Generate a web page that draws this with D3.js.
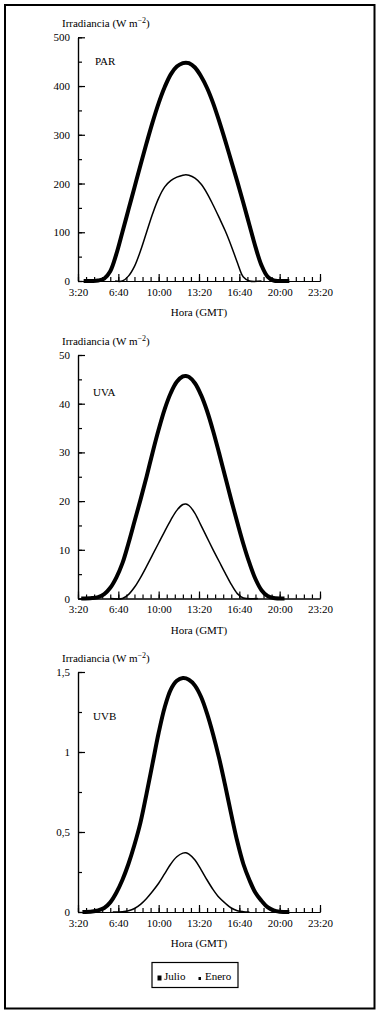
<!DOCTYPE html>
<html>
<head>
<meta charset="utf-8">
<script src="https://cdn.jsdelivr.net/npm/d3@7/dist/d3.min.js"></script>
<style>
  body { margin: 0; background: #fff; }
  text { font-family: "Liberation Serif", "Times New Roman", serif; font-size: 11px; fill: #000; }
</style>
</head>
<body>
<div id="chart"></div>
<script>
// [hour, W m-2]
const parJulio = [[3.8,0],[4.5,0],[5,1],[5.5,5],[6,20],[6.5,55],[7,100],[7.5,146],[8,192],[8.5,238],[9,283],[9.5,326],[10,365],[10.5,398],[11,424],[11.5,440],[12,447],[12.25,448],[12.5,447],[13,438],[13.5,420],[14,396],[14.5,365],[15,328],[15.5,288],[16,246],[16.5,204],[17,160],[17.5,115],[18,70],[18.5,32],[19,9],[19.5,1],[20,0],[20.8,0]];
const parEnero = [[6.4,0],[7,0],[7.5,10],[8,30],[8.5,62],[9,100],[9.5,138],[10,170],[10.5,193],[11,206],[11.5,213],[12,217],[12.25,218],[12.5,217],[13,211],[13.5,199],[14,180],[14.5,156],[15,130],[15.5,103],[16,72],[16.5,38],[17,8],[17.5,0],[18.5,0]];

const uvaJulio = [[3.6,0],[4.5,0.1],[5,0.3],[5.5,0.9],[6,2.2],[6.5,4.3],[7,7.2],[7.5,11.3],[8,15.8],[8.5,20.3],[9,25],[9.5,30],[10,34.7],[10.5,38.9],[11,42.2],[11.5,44.5],[12,45.6],[12.25,45.7],[12.5,45.5],[13,44.2],[13.5,41.8],[14,38.5],[14.5,34.4],[15,29.8],[15.5,25],[16,20.2],[16.5,15.6],[17,11.2],[17.5,7.3],[18,4],[18.5,1.7],[19,0.5],[19.5,0.1],[20.4,0]];
const uvaEnero = [[6,0],[7,0],[7.5,0.8],[8,2.3],[8.5,4.3],[9,6.6],[9.5,9],[10,11.4],[10.5,13.8],[11,16.1],[11.5,18.1],[12,19.3],[12.25,19.4],[12.5,19.1],[13,17.5],[13.5,15],[14,12.5],[14.5,10],[15,7.6],[15.5,5.2],[16,2.9],[16.5,1],[17,0.1],[18.2,0]];

const uvbJulio = [[3.7,0],[4.5,0.003],[5,0.01],[5.5,0.025],[6,0.06],[6.5,0.12],[7,0.2],[7.5,0.3],[8,0.42],[8.5,0.56],[9,0.74],[9.5,0.93],[10,1.12],[10.5,1.28],[11,1.39],[11.5,1.445],[12,1.462],[12.5,1.452],[13,1.415],[13.5,1.345],[14,1.24],[14.5,1.11],[15,0.96],[15.5,0.79],[16,0.61],[16.5,0.44],[17,0.3],[17.5,0.2],[18,0.12],[18.5,0.07],[19,0.03],[19.5,0.01],[20,0.002],[20.8,0]];
const uvbEnero = [[6.2,0],[7,0.002],[7.5,0.008],[8,0.022],[8.5,0.048],[9,0.085],[9.5,0.13],[10,0.18],[10.5,0.24],[11,0.3],[11.5,0.345],[12,0.368],[12.25,0.37],[12.5,0.362],[13,0.325],[13.5,0.265],[14,0.2],[14.5,0.14],[15,0.09],[15.5,0.055],[16,0.025],[16.5,0.008],[17,0.002],[17.5,0]];

const hourStart = 3 + 20 / 60, hourEnd = 23 + 20 / 60;
const legendNames = ["Julio", "Enero"];

const width = 381, height = 1015;
const x0 = 78, x1 = 320;

const panels = [
  { name: "PAR", julio: parJulio, enero: parEnero, top: 37.3, bottom: 281, max: 500, major: 100, minor: 50, labelY: 64.5 },
  { name: "UVA", julio: uvaJulio, enero: uvaEnero, top: 355, bottom: 598.5, max: 50, major: 10, minor: 5, labelY: 395.5 },
  { name: "UVB", julio: uvbJulio, enero: uvbEnero, top: 672, bottom: 912, max: 1.5, major: 0.5, minor: 0.25, labelY: 720 }
];

const svg = d3.select("#chart").append("svg")
  .attr("width", width)
  .attr("height", height);

// outer frame
svg.append("rect")
  .attr("x", 5).attr("y", 5)
  .attr("width", 369.5).attr("height", 1003.5)
  .attr("fill", "none").attr("stroke", "#000").attr("stroke-width", 2);

let x = d3.scaleLinear().domain([hourStart, hourEnd]).range([x0, x1]);

const fmtHour = h => {
  let m = Math.round(h * 60);
  return Math.floor(m / 60) + ":" + String(m % 60).padStart(2, "0");
};
const majorHours = d3.range(0, 7).map(i => hourStart + i * 200 / 60);
const minorHours = d3.range(0, 31).map(i => hourStart + i * 40 / 60);

panels.forEach(p => {
  let y = d3.scaleLinear().domain([0, p.max]).range([p.bottom, p.top]);
  let g = svg.append("g");

  let fmtVal = d => String(+d.toFixed(2)).replace(".", ",");

  // y axis minor + major ticks (pointing inward)
  g.append("g").attr("transform", `translate(${x0},0)`)
    .call(d3.axisLeft(y).tickValues(d3.range(0, p.max + 1e-9, p.minor)).tickSize(-4).tickSizeOuter(0).tickFormat(""));
  g.append("g").attr("transform", `translate(${x0},0)`)
    .call(d3.axisLeft(y).tickValues(d3.range(0, p.max + 1e-9, p.major)).tickSize(-7).tickSizeOuter(0).tickPadding(8).tickFormat(fmtVal));

  // x axis
  g.append("g").attr("transform", `translate(0,${p.bottom})`)
    .call(d3.axisBottom(x).tickValues(minorHours).tickSize(-4).tickSizeOuter(0).tickFormat(""));
  g.append("g").attr("transform", `translate(0,${p.bottom})`)
    .call(d3.axisBottom(x).tickValues(majorHours).tickSize(-7).tickSizeOuter(0).tickPadding(7).tickFormat(fmtHour));

  g.selectAll(".domain, .tick line").attr("stroke", "#000").attr("stroke-width", 1.2);
  g.selectAll(".tick text").attr("font-size", 11).attr("font-family", "Liberation Serif, serif");

  // y title
  let t = g.append("text").attr("x", 62).attr("y", p.top - 10);
  t.append("tspan").text("Irradiancia (W m");
  t.append("tspan").attr("dy", -4).attr("font-size", 8).text("\u22122");
  t.append("tspan").attr("dy", 4).text(")");

  // x title
  g.append("text").attr("x", (x0 + x1) / 2).attr("y", p.bottom + 35)
    .attr("text-anchor", "middle").text("Hora (GMT)");

  // panel label
  g.append("text").attr("x", p.name == "PAR" ? 95 : 93).attr("y", p.labelY).text(p.name);

  let line = d3.line()
    .x(d => x(d[0]))
    .y(d => y(Math.max(0, d[1])))
    .curve(d3.curveCatmullRom.alpha(0.5));

  g.append("path").datum(p.julio)
    .attr("d", line).attr("fill", "none").attr("stroke", "#000")
    .attr("stroke-width", 4).attr("stroke-linejoin", "round");
  g.append("path").datum(p.enero)
    .attr("d", line).attr("fill", "none").attr("stroke", "#000")
    .attr("stroke-width", 1.5).attr("stroke-linejoin", "round");
});

// legend
let lg = svg.append("g");
lg.append("rect").attr("x", 152).attr("y", 962.5).attr("width", 86).attr("height", 25)
  .attr("fill", "none").attr("stroke", "#000").attr("stroke-width", 1.2);
lg.append("rect").attr("x", 157.5).attr("y", 975.5).attr("width", 4).attr("height", 5).attr("fill", "#000");
lg.append("text").attr("x", 164).attr("y", 980).text(legendNames[0]);
lg.append("rect").attr("x", 198.5).attr("y", 977).attr("width", 2.5).attr("height", 3).attr("fill", "#000");
lg.append("text").attr("x", 205).attr("y", 980).text(legendNames[1]);
</script>
</body>
</html>
